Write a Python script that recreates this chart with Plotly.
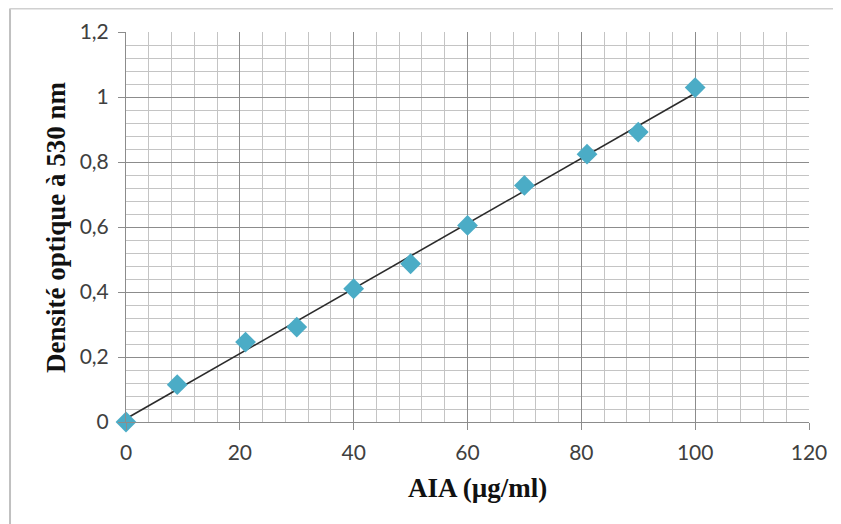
import numpy as np
import plotly.graph_objects as go

# Data
aia = [0, 9, 21, 30, 40, 50, 60, 70, 81, 90, 100]
densite = [0.0, 0.115, 0.246, 0.292, 0.410, 0.487, 0.605, 0.728, 0.824, 0.892, 1.029]

x_title = "AIA (µg/ml)"
y_title = "Densité optique à 530 nm"

# Linear trend line (least squares on the data)
slope, intercept = np.polyfit(aia, densite, 1)
trend_x = [0, 100]
trend_y = [intercept + slope * v for v in trend_x]

fig = go.Figure()
fig.add_trace(go.Scatter(
    x=trend_x, y=trend_y, mode="lines",
    line=dict(color="#2b2b2b", width=1.6),
    showlegend=False, hoverinfo="skip", cliponaxis=False,
))
fig.add_trace(go.Scatter(
    x=aia, y=densite, mode="markers",
    marker=dict(symbol="diamond", size=16, color="#4BACC6",
                line=dict(width=0)),
    showlegend=False, cliponaxis=False,
))

major_grid = "#8c8c8c"
minor_grid = "#c4c4c4"
tick_font = dict(family="Lato, 'Open Sans', sans-serif", size=21, color="#404040")
title_font = dict(family="'Liberation Serif', 'Times New Roman', serif", size=27, color="#111111")

fig.update_layout(
    width=841, height=524,
    margin=dict(l=118, r=40, t=24, b=110),
    paper_bgcolor="white", plot_bgcolor="white",
    separators=", ",
    xaxis=dict(
        range=[0, 120], dtick=20, tick0=0,
        showgrid=True, gridcolor=major_grid, gridwidth=1,
        minor=dict(dtick=4, showgrid=True, gridcolor=minor_grid, gridwidth=1),
        showline=True, linecolor=major_grid, linewidth=1,
        ticks="outside", ticklen=7, tickcolor=major_grid,
        tickfont=tick_font, zeroline=False, ticklabelstandoff=5,
        automargin=False,
    ),
    yaxis=dict(
        range=[0, 1.2], dtick=0.2, tick0=0,
        showgrid=True, gridcolor=major_grid, gridwidth=1,
        minor=dict(dtick=0.04, showgrid=True, gridcolor=minor_grid, gridwidth=1),
        showline=True, linecolor=major_grid, linewidth=1,
        ticks="outside", ticklen=7, tickcolor=major_grid,
        tickfont=tick_font, zeroline=False, ticklabelstandoff=5,
        automargin=False,
    ),
    annotations=[
        dict(text="<b>" + x_title + "</b>", xref="paper", yref="paper",
             x=0.514, y=-0.169, xanchor="center", yanchor="middle",
             showarrow=False, font=title_font),
        dict(text="<b>" + y_title + "</b>", xref="paper", yref="paper",
             x=-0.1025, y=0.5, xanchor="center", yanchor="middle",
             textangle=-90, showarrow=False, font=title_font),
    ],
    shapes=[
        dict(type="line", xref="paper", yref="paper",
             x0=-0.1698, x1=-0.1698, y0=1.0603, y1=-0.30,
             line=dict(color="#c0c0c0", width=2)),
        dict(type="line", xref="paper", yref="paper",
             x0=-0.1698, x1=1.06, y0=1.0603, y1=1.0603,
             line=dict(color="#d0d0d0", width=2)),
    ],
)

fig.write_html("out.html")
